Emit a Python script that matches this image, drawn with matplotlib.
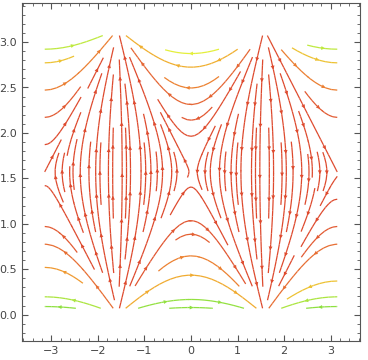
import numpy as np
import matplotlib
matplotlib.use("Agg")
import matplotlib.pyplot as plt
from matplotlib.colors import LinearSegmentedColormap
from matplotlib.patches import FancyArrowPatch

# domain of the vector field (gradient of sin(x)cos(y)), kept just off the y edges
x_range = [-np.pi, np.pi]
y_range = [0.07, np.pi - 0.07]
x_lim = [-3.63, 3.63]
y_lim = [-0.29, 3.43]
x_ticks = [-3, -2, -1, 0, 1, 2, 3]
y_ticks = [0.0, 0.5, 1.0, 1.5, 2.0, 2.5, 3.0]
# colour stops against sin(y)/|cos(x)|, which is constant along a stream line
color_levels = [0.16, 0.26, 0.4, 0.55, 0.75, 0.95]
line_colors = ["#8ee040", "#e4f03c", "#f0b030", "#ee8c30", "#e56434", "#de4a2e"]

x = np.linspace(x_range[0], x_range[1], 240)
y = np.linspace(y_range[0], y_range[1], 240)
X, Y = np.meshgrid(x, y)
U = np.cos(X) * np.cos(Y)
V = -np.sin(X) * np.sin(Y)
K = np.sin(Y) / np.maximum(np.abs(np.cos(X)), 1e-6)
lo, hi = color_levels[0], color_levels[-1]
C = np.clip(K, lo, hi)

pos = [(c - lo) / (hi - lo) for c in color_levels]
cmap = LinearSegmentedColormap.from_list("stream", list(zip(pos, line_colors)))
norm = plt.Normalize(lo, hi)

fig = plt.figure(figsize=(3.68, 3.60), dpi=100)
ax = fig.add_axes([22 / 368, 19 / 360, 338 / 368, 338 / 360])
ax.set_xlim(x_lim)
ax.set_ylim(y_lim)
sp = ax.streamplot(X, Y, U, V, color=C, cmap=cmap, norm=norm,
                   density=(1.6, 0.72), linewidth=0.9, arrowstyle="-", arrowsize=0.1)

# join the small segments back into whole stream lines, then put several arrows on each
segs = sp.lines.get_segments()
vals = sp.lines.get_array()
lines = []
cur, cur_v = None, None
for s, v in zip(segs, vals):
    if cur is not None and np.allclose(cur[-1], s[0]):
        cur.append(s[1])
    else:
        if cur is not None:
            lines.append((np.array(cur), cur_v))
        cur, cur_v = [s[0], s[1]], v
if cur is not None:
    lines.append((np.array(cur), cur_v))

step = 45
for pts, v in lines:
    disp = ax.transData.transform(pts)
    d = np.hypot(*np.diff(disp, axis=0).T)
    cum = np.concatenate([[0], np.cumsum(d)])
    total = cum[-1]
    if total < 20:
        continue
    n = max(1, int(round(total / step)))
    marks = (np.arange(n) + 0.5) * total / n
    for m in marks:
        i = np.searchsorted(cum, m)
        i = min(max(i, 1), len(pts) - 1)
        a = FancyArrowPatch(pts[i - 1], pts[i], arrowstyle="-|>", mutation_scale=7,
                            color=cmap(norm(v)), lw=0, shrinkA=0, shrinkB=0)
        ax.add_patch(a)

ax.set_xticks(x_ticks)
ax.set_yticks(y_ticks)
ax.set_yticklabels([f"{t:.1f}" for t in y_ticks])
ax.set_xticks(np.arange(-3.6, 3.61, 0.2), minor=True)
ax.set_yticks(np.arange(-0.2, 3.41, 0.1), minor=True)
for s in ax.spines.values():
    s.set_color("#555555")
ax.tick_params(which="both", direction="in", top=True, right=True, colors="#555555",
               labelcolor="#444444", labelsize=8)
ax.tick_params(which="major", length=4)
ax.tick_params(which="minor", length=2)
fig.savefig("out.png", dpi=100)
